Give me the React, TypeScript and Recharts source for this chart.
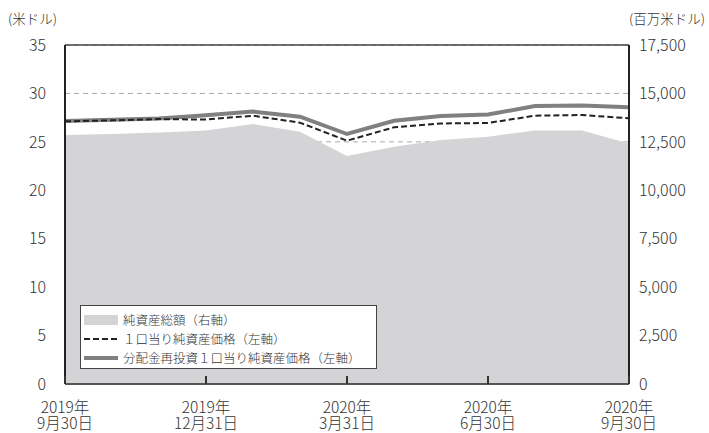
import React from 'react';
import { ComposedChart, Area, Line, XAxis, YAxis, CartesianGrid, ReferenceLine, Legend } from 'recharts';

const dates = [
  '2019年\n9月30日', '2019年\n10月31日', '2019年\n11月30日', '2019年\n12月31日',
  '2020年\n1月31日', '2020年\n2月29日', '2020年\n3月31日', '2020年\n4月30日',
  '2020年\n5月31日', '2020年\n6月30日', '2020年\n7月31日', '2020年\n8月31日', '2020年\n9月30日',
];
const netAssets = [12850, 12900, 12980, 13090, 13420, 13020, 11770, 12250, 12600, 12770, 13080, 13080, 12420];
const navPerUnit = [27.12, 27.22, 27.35, 27.3, 27.7, 26.98, 25.12, 26.5, 26.9, 26.95, 27.7, 27.77, 27.43];
const navReinvested = [27.15, 27.27, 27.4, 27.75, 28.13, 27.6, 25.81, 27.18, 27.67, 27.82, 28.7, 28.75, 28.57];
const leftTicks = [0, 5, 10, 15, 20, 25, 30, 35];
const rightTicks = [0, 2500, 5000, 7500, 10000, 12500, 15000, 17500];
const seriesNames = ['純資産総額（右軸）', '１口当り純資産価格（左軸）', '分配金再投資１口当り純資産価格（左軸）'];

const data = dates.map((d, i) => ({
  date: d,
  netAssets: netAssets[i],
  navPerUnit: navPerUnit[i],
  navReinvested: navReinvested[i],
}));

const FONT = '"Noto Sans CJK JP", "Noto Sans", sans-serif';
const WEIGHT = 300;

const XTick = (props: any) => {
  const { x, y, payload } = props;
  const [l1, l2] = String(payload.value).split('\n');
  return (
    <g>
      <line x1={x} y1={y} x2={x} y2={y - 8} stroke="#333" strokeWidth={2} />
      <text x={x} y={y + 29} textAnchor="middle" fontSize={15.5} fill="#333" fontFamily={FONT} fontWeight={WEIGHT}>
        <tspan x={x} dy={0}>{l1}</tspan>
        <tspan x={x} dy={16}>{l2}</tspan>
      </text>
    </g>
  );
};

const LegendContent = () => (
  <div style={{
    border: '1px solid #444', background: '#fff', width: 297, height: 64, boxSizing: 'border-box',
    padding: '4px 0 0 3px', fontFamily: FONT, fontWeight: WEIGHT, fontSize: 12.5, color: '#333',
  }}>
    {seriesNames.map((n, i) => (
      <div key={n} style={{ display: 'flex', alignItems: 'center', height: 19 }}>
        <svg width={34} height={12} style={{ marginRight: 5 }}>
          {i === 0 && <rect x={0} y={1} width={34} height={10} fill="#d4d4d6" />}
          {i === 1 && <line x1={0} y1={6} x2={34} y2={6} stroke="#222" strokeWidth={2} strokeDasharray="6 3" />}
          {i === 2 && <line x1={0} y1={6} x2={34} y2={6} stroke="#808080" strokeWidth={4} />}
        </svg>
        <span style={{ whiteSpace: 'nowrap' }}>{n}</span>
      </div>
    ))}
  </div>
);

export default function App() {
  return (
    <div style={{ position: 'relative', width: 709, height: 433, fontFamily: FONT }}>
      <style>{'body{margin:0;}'}</style>
      <div style={{ position: 'absolute', left: 8, top: 8, fontSize: 13.5, fontWeight: WEIGHT, color: '#333' }}>(米ドル)</div>
      <div style={{ position: 'absolute', right: 4, top: 8, fontSize: 13.5, fontWeight: WEIGHT, color: '#333' }}>(百万米ドル)</div>
      <ComposedChart width={709} height={433} data={data} margin={{ top: 45, right: 0, bottom: 0, left: 0 }}>
        <CartesianGrid yAxisId="left" vertical={false} stroke="#aaa" strokeDasharray="5 4" />
        <XAxis
          dataKey="date"
          scale="point"
          interval={2}
          height={49}
          tickSize={0}
          tickMargin={0}
          tickLine={false}
          tick={<XTick />}
          axisLine={{ stroke: '#555', strokeWidth: 2 }}
        />
        <YAxis
          yAxisId="left"
          orientation="left"
          width={65}
          domain={[0, 35]}
          ticks={leftTicks}
          tickLine={false}
          tickSize={0}
          tickMargin={19}
          axisLine={{ stroke: '#222', strokeWidth: 2 }}
          tick={{ fontSize: 16, fill: '#333', fontFamily: FONT, fontWeight: WEIGHT }}
        />
        <YAxis
          yAxisId="right"
          orientation="right"
          width={80}
          domain={[0, 17500]}
          ticks={rightTicks}
          tickLine={false}
          tickSize={0}
          tickMargin={10}
          tickFormatter={(v: number) => v.toLocaleString('en-US')}
          axisLine={{ stroke: '#222', strokeWidth: 2 }}
          tick={{ fontSize: 16, fill: '#333', fontFamily: FONT, fontWeight: WEIGHT, textAnchor: 'start' }}
        />
        <Area
          yAxisId="right"
          type="linear"
          dataKey="netAssets"
          fill="#d4d4d6"
          fillOpacity={1}
          stroke="none"
          isAnimationActive={false}
          dot={false}
          activeDot={false}
        />
        <Line
          yAxisId="left"
          type="linear"
          dataKey="navReinvested"
          stroke="#808080"
          strokeWidth={4}
          dot={false}
          activeDot={false}
          isAnimationActive={false}
        />
        <Line
          yAxisId="left"
          type="linear"
          dataKey="navPerUnit"
          stroke="#222"
          strokeWidth={2}
          strokeDasharray="6 3"
          dot={false}
          activeDot={false}
          isAnimationActive={false}
        />
        <ReferenceLine yAxisId="left" y={35} stroke="#444" strokeWidth={1.5} />
        <Legend
          layout="horizontal"
          verticalAlign="middle"
          align="center"
          content={<LegendContent />}
          wrapperStyle={{ left: 80, top: 305, width: 297, height: 64 }}
        />
      </ComposedChart>
    </div>
  );
}
